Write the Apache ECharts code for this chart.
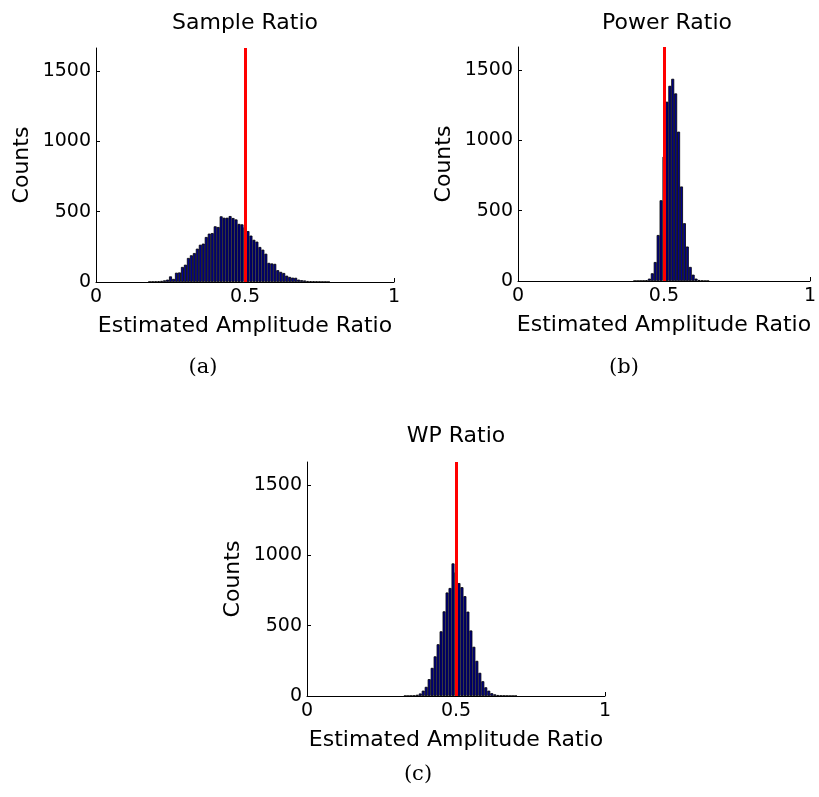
<!DOCTYPE html>
<html><head><meta charset="utf-8">
<script src="https://cdn.jsdelivr.net/npm/echarts@6/dist/echarts.min.js"></script>
<style>html,body{margin:0;padding:0;background:#fff}#chart{width:819px;height:797px}</style>
</head><body><div id="chart"></div>
<script>
// ---- data ----
const panelTitles = ['Sample Ratio', 'Power Ratio', 'WP Ratio'];
const subLabels = ['(a)', '(b)', '(c)'];
const xAxisName = 'Estimated Amplitude Ratio';
const yAxisName = 'Counts';
const xTicks = [0, 0.5, 1];
const yTicks = [0, 500, 1000, 1500];
const yMax = 1664;
const trueRatio = 0.5;
const binWidth = 0.01;

// Sample Ratio histogram (bin centres / counts)
const binsA = [0.18,0.19,0.20,0.21,0.22,0.23,0.24,0.25,0.26,0.27,
  0.28,0.29,0.30,0.31,0.32,0.33,0.34,0.35,0.36,0.37,
  0.38,0.39,0.40,0.41,0.42,0.43,0.44,0.45,0.46,0.47,
  0.48,0.49,0.50,0.51,0.52,0.53,0.54,0.55,0.56,0.57,
  0.58,0.59,0.60,0.61,0.62,0.63,0.64,0.65,0.66,0.67,
  0.68,0.69,0.70,0.71,0.72,0.73,0.74,0.75,0.76,0.77,0.78];
const countsA = [2,3,4,6,8,12,17,40,22,66,
  68,107,123,171,190,206,237,265,273,320,
  344,348,396,391,467,457,457,469,455,445,
  413,410,390,362,330,300,287,249,230,201,
  136,132,129,84,72,64,45,36,31,30,
  17,13,11,7,6,5,4,3,2,2,1];

// Power Ratio histogram
const binsB = [0.40,0.41,0.42,0.43,0.44,0.45,0.46,0.47,0.48,0.49,
  0.50,0.51,0.52,0.53,0.54,0.55,0.56,0.57,0.58,0.59,
  0.60,0.61,0.62,0.63,0.64,0.65];
const countsB = [1,1,2,3,6,17,55,135,327,574,
  884,1275,1388,1438,1334,1062,672,411,245,100,
  45,17,7,3,1,1];

// WP Ratio histogram
const binsC = [0.33,0.34,0.35,0.36,0.37,0.38,0.39,0.40,0.41,0.42,
  0.43,0.44,0.45,0.46,0.47,0.48,0.49,0.50,0.51,0.52,
  0.53,0.54,0.55,0.56,0.57,0.58,0.59,0.60,0.61,0.62,
  0.63,0.64,0.65,0.66,0.67,0.68,0.69,0.70];
const countsC = [1,1,2,4,9,18,38,65,120,200,
  282,368,460,602,736,768,943,880,803,774,
  710,600,466,350,250,165,105,62,38,20,
  12,7,4,3,2,1,1,1];

// ---- layout / style ----
const grids = [
  {left: 96, top: 48, width: 298, height: 234},
  {left: 518, top: 47, width: 297, height: 234},
  {left: 307, top: 462, width: 298, height: 234}
];
const titlePos = [[245, 23], [667, 23], [456, 436]];
const subPos = [[203, 368], [624, 368], [418, 775]];
const SANS = '"DejaVu Sans", sans-serif';
const SERIF = '"DejaVu Serif", serif';
const panels = [[binsA, countsA], [binsB, countsB], [binsC, countsC]];

const option = {
  animation: false,
  backgroundColor: '#fff',
  grid: grids.map(g => Object.assign({}, g)),
  xAxis: grids.map((g, i) => ({
    type: 'value', gridIndex: i, min: 0, max: 1, interval: 0.5,
    name: xAxisName, nameLocation: 'middle', nameGap: 33,
    nameTextStyle: {fontFamily: SANS, fontSize: 22, color: '#000'},
    axisLine: {show: true, onZero: false, lineStyle: {color: '#000', width: 1}},
    axisTick: {show: true, inside: true, length: 4, lineStyle: {color: '#000'}},
    axisLabel: {fontFamily: SANS, fontSize: 19, color: '#000', margin: 6,
      customValues: xTicks, formatter: v => String(v)},
    splitLine: {show: false}
  })),
  yAxis: grids.map((g, i) => ({
    type: 'value', gridIndex: i, min: 0, max: yMax,
    name: yAxisName, nameLocation: 'middle', nameGap: 63,
    nameTextStyle: {fontFamily: SANS, fontSize: 22, color: '#000'},
    axisLine: {show: true, onZero: false, lineStyle: {color: '#000', width: 1}},
    axisTick: {show: true, inside: true, length: 4, lineStyle: {color: '#000'},
      customValues: yTicks},
    axisLabel: {fontFamily: SANS, fontSize: 19, color: '#000', margin: 5,
      customValues: yTicks, formatter: v => String(v)},
    splitLine: {show: false}
  })),
  series: panels.map((p, i) => ({
    type: 'bar', xAxisIndex: i, yAxisIndex: i,
    data: p[0].map((x, k) => [x, p[1][k]]),
    barWidth: grids[i].width * binWidth,
    itemStyle: {color: '#00008F', borderColor: '#000', borderWidth: 0.8},
    emphasis: {disabled: true},
    markLine: {
      silent: true, symbol: ['none', 'none'],
      label: {show: false},
      lineStyle: {color: '#FF0000', width: 3, type: 'solid'},
      emphasis: {disabled: true},
      data: [{xAxis: trueRatio}]
    }
  })),
  graphic: [].concat(
    panelTitles.map((t, i) => ({
      type: 'text', x: titlePos[i][0], y: titlePos[i][1], silent: true,
      style: {text: t, fontFamily: SANS, fontSize: 22, fill: '#000',
        align: 'center', verticalAlign: 'middle', textAlign: 'center', textVerticalAlign: 'middle'}
    })),
    subLabels.map((t, i) => ({
      type: 'text', x: subPos[i][0], y: subPos[i][1], silent: true,
      style: {text: t, fontFamily: SERIF, fontSize: 21, fill: '#000',
        align: 'center', verticalAlign: 'middle', textAlign: 'center', textVerticalAlign: 'middle'}
    }))
  )
};

const chart = echarts.init(document.getElementById('chart'), null, {renderer: 'canvas'});
chart.setOption(option);
</script>
</body></html>
